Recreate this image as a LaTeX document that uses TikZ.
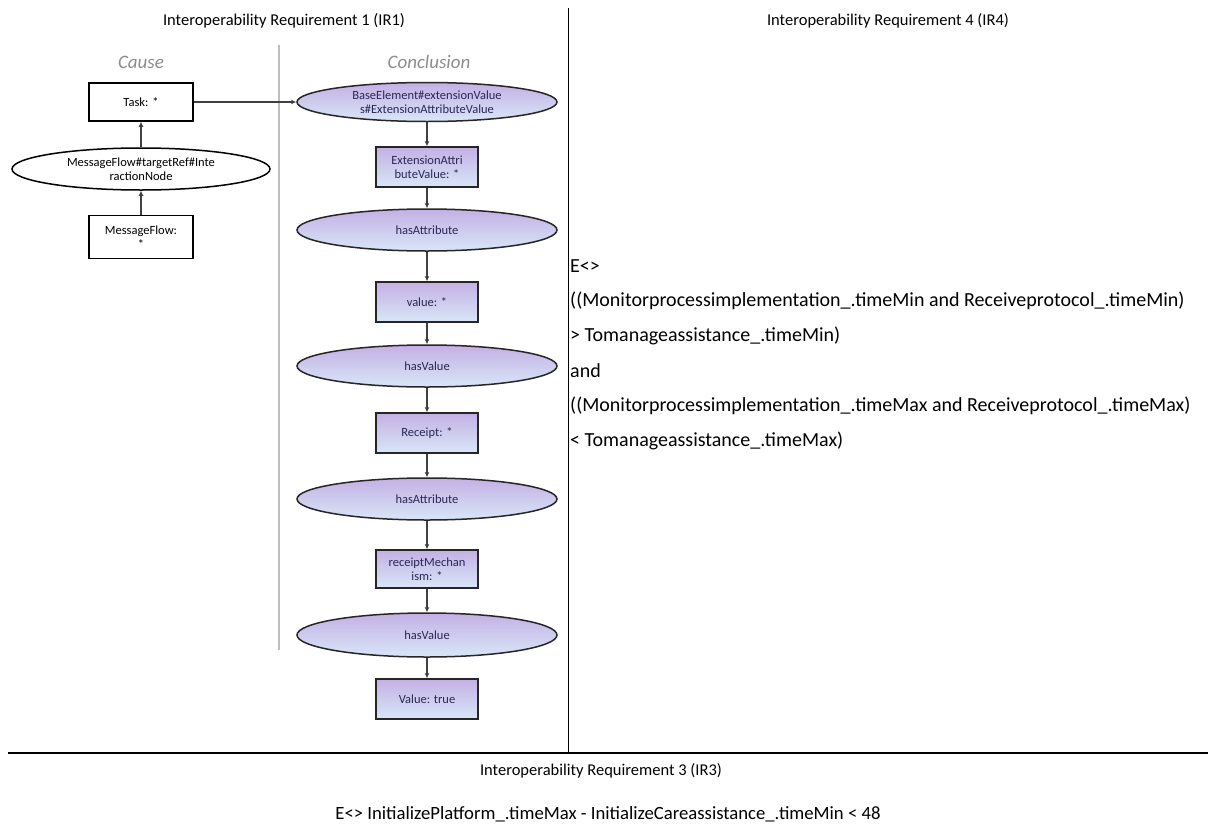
\documentclass[tikz,border=0pt]{standalone}
\usepackage{fontspec}
\setmainfont{Carlito}
\usetikzlibrary{arrows.meta,shapes.geometric}
\definecolor{concTop}{RGB}{196,176,228}
\definecolor{concBot}{RGB}{216,230,248}
\definecolor{concText}{RGB}{40,40,85}
\definecolor{titleGray}{RGB}{140,140,140}
\definecolor{sepGray}{RGB}{190,190,190}
\tikzset{
  header/.style={font=\fontsize{16.5}{19}\selectfont, text=black},
  colTitle/.style={font=\fontsize{19}{22}\selectfont\itshape, text=titleGray},
  causebox/.style={rectangle, draw=black, line width=1.5pt, fill=white, minimum width=104pt, minimum height=40pt, inner sep=1pt, align=center, font=\fontsize{12.5}{14}\selectfont},
  causeell/.style={ellipse, draw=black, line width=1.5pt, fill=white, minimum width=258pt, minimum height=42pt, inner xsep=0pt, inner ysep=-1.5pt, align=center, font=\fontsize{12.5}{14}\selectfont},
  concbox/.style={rectangle, draw=black!85, line width=1.5pt, top color=concTop, bottom color=concBot, minimum width=102pt, minimum height=40pt, inner sep=1pt, align=center, text=concText, font=\fontsize{12.5}{14}\selectfont},
  concell/.style={ellipse, draw=black!85, line width=1.5pt, top color=concTop, bottom color=concBot, minimum width=260pt, minimum height=42pt, inner xsep=0pt, inner ysep=-1.5pt, align=center, text=concText, font=\fontsize{12.5}{14}\selectfont},
  arr/.style={draw=black!75, line width=1.5pt, -{Latex[length=5pt,width=5pt]}},
  formula/.style={anchor=west, inner sep=0pt, font=\fontsize{20}{24}\selectfont},
  bottomformula/.style={inner sep=0pt, font=\fontsize{18.7}{22}\selectfont}
}
\begin{document}
\begin{tikzpicture}[x=1pt,y=-1pt]
\useasboundingbox (0,0) rectangle (1208,830);
% frame lines
\coordinate (vtop) at (568,8);
\coordinate (vbot) at (568,753);
\coordinate (hleft) at (8,753);
\coordinate (hright) at (1208,753);
\draw[black, line width=0.9pt] (vtop) -- (vbot);
\draw[black, line width=1.2pt] (hleft) -- (hright);
% headers
\node[header] (h1) at (284,21) {Interoperability Requirement 1 (IR1)};
\node[header] (h4) at (888,21) {Interoperability Requirement 4 (IR4)};
\node[header] (h3) at (601,771) {Interoperability Requirement 3 (IR3)};
% column titles and separator
\node[colTitle] (tcause) at (141,62) {Cause};
\node[colTitle] (tconc) at (429,62) {Conclusion};
\coordinate (gtop) at (279,45);
\coordinate (gbot) at (279,650);
\draw[sepGray, line width=2.5pt] (gtop) -- (gbot);
% cause column
\node[causebox, minimum height=38pt] (task) at (141,102) {Task: *};
\node[causeell] (mft) at (141,169) {MessageFlow\#targetRef\#Inte\\ractionNode};
\node[causebox, minimum height=43pt] (mf) at (141,237) {MessageFlow:\\*};
\draw[arr] (mft) -- (task);
\draw[arr] (mf) -- (mft);
% conclusion column
\node[concell, minimum height=39pt] (c1) at (427,102) {BaseElement\#extensionValue\\s\#ExtensionAttributeValue};
\node[concbox] (c2) at (427,167) {ExtensionAttri\\buteValue: *};
\node[concell] (c3) at (427,230) {hasAttribute};
\node[concbox] (c4) at (427,302) {value: *};
\node[concell] (c5) at (427,366) {hasValue};
\node[concbox] (c6) at (427,433) {Receipt: *};
\node[concell] (c7) at (427,499) {hasAttribute};
\node[concbox, minimum height=38pt] (c8) at (427,569) {receiptMechan\\ism: *};
\node[concell, minimum height=44pt] (c9) at (427,635) {hasValue};
\node[concbox] (c10) at (427,699) {Value: true};
\draw[arr] (task) -- (c1);
\draw[arr] (c1) -- (c2);
\draw[arr] (c2) -- (c3);
\draw[arr] (c3) -- (c4);
\draw[arr] (c4) -- (c5);
\draw[arr] (c5) -- (c6);
\draw[arr] (c6) -- (c7);
\draw[arr] (c7) -- (c8);
\draw[arr] (c8) -- (c9);
\draw[arr] (c9) -- (c10);
% IR4 formula
\node[formula] (f1) at (570,266) {E<>};
\node[formula] (f2) at (570,301) {((Monitorprocessimplementation\_.timeMin and Receiveprotocol\_.timeMin)};
\node[formula] (f3) at (570,336) {> Tomanageassistance\_.timeMin)};
\node[formula] (f4) at (570,371) {and};
\node[formula] (f5) at (570,406) {((Monitorprocessimplementation\_.timeMax and Receiveprotocol\_.timeMax)};
\node[formula] (f6) at (570,441) {< Tomanageassistance\_.timeMax)};
% IR3 formula
\node[bottomformula] (g1) at (608,814) {E<> InitializePlatform\_.timeMax - InitializeCareassistance\_.timeMin < 48};
\end{tikzpicture}
\end{document}
